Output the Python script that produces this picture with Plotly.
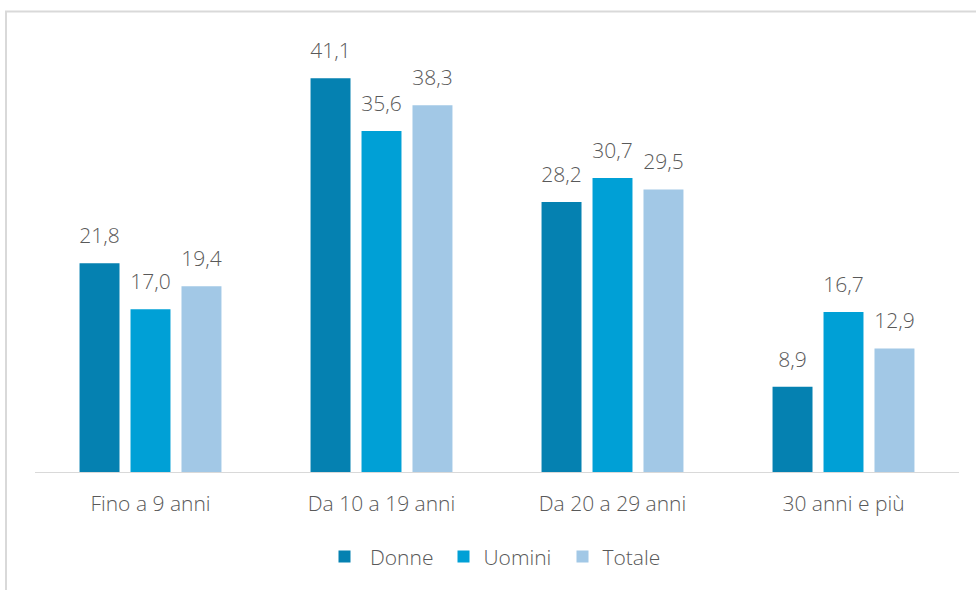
import plotly.graph_objects as go

categories = ["Fino a 9 anni", "Da 10 a 19 anni", "Da 20 a 29 anni", "30 anni e più"]
donne = [21.8, 41.1, 28.2, 8.9]
uomini = [17.0, 35.6, 30.7, 16.7]
totale = [19.4, 38.3, 29.5, 12.9]
series_names = [" Donne", "Uomini", "Totale"]
colors = ["#0581B1", "#00A0D6", "#A2C8E6"]

W, H = 976, 590
ml, mr, mt, mb = 35, 17, 40.5, 118
plot_w = W - ml - mr
plot_h = H - mt - mb

font_family = "Open Sans"
txt_color = "#595959"
BARGAP = 0.338

fig = go.Figure()
for name, vals, col in zip(series_names, [donne, uomini, totale], colors):
    fig.add_trace(go.Bar(
        x=categories, y=vals, name=name, marker_color=col,
        marker_line_width=0, hoverinfo="skip",
    ))
for name, vals in zip(series_names, [donne, uomini, totale]):
    fig.add_trace(go.Scatter(
        x=categories, y=vals, mode="markers+text",
        text=[f"{v:.1f}".replace(".", ",") for v in vals],
        textposition="top center",
        marker=dict(size=22, color="rgba(0,0,0,0)"),
        textfont=dict(family=font_family, size=21, color=txt_color, weight=300),
        showlegend=False, hoverinfo="skip", cliponaxis=False,
    ))

def px_x(p):
    return (p - ml) / plot_w

def px_y(p):
    return (H - mb - p) / plot_h

fig.add_shape(type="rect", xref="paper", yref="paper",
              x0=px_x(6), x1=px_x(1010), y0=px_y(640), y1=px_y(11),
              line=dict(color="#D9D9D9", width=2), fillcolor="rgba(0,0,0,0)", layer="below")

fig.update_layout(
    width=W, height=H,
    margin=dict(l=ml, r=mr, t=mt, b=mb, pad=0),
    paper_bgcolor="white", plot_bgcolor="white",
    barmode="group", bargap=BARGAP, bargroupgap=0.216,
    scattermode="group", scattergap=BARGAP,
    font=dict(family=font_family, color=txt_color, size=21, weight=300),
    xaxis=dict(showline=True, linecolor="#D9D9D9", linewidth=1, showgrid=False,
               ticks="", tickfont=dict(size=21, color=txt_color, weight=300), ticklabelstandoff=13),
    yaxis=dict(range=[0, 45], visible=False, showgrid=False, zeroline=False),
    legend=dict(orientation="h", x=px_x(503), xanchor="center", y=px_y(557), yanchor="middle",
                font=dict(size=21, color=txt_color, weight=300), entrywidth=74, entrywidthmode="pixels",
                traceorder="normal"),
    showlegend=True,
)

fig.write_html("out.html", config={"displayModeBar": False},
               post_script="document.body.style.margin='0';document.body.style.padding='0';")
